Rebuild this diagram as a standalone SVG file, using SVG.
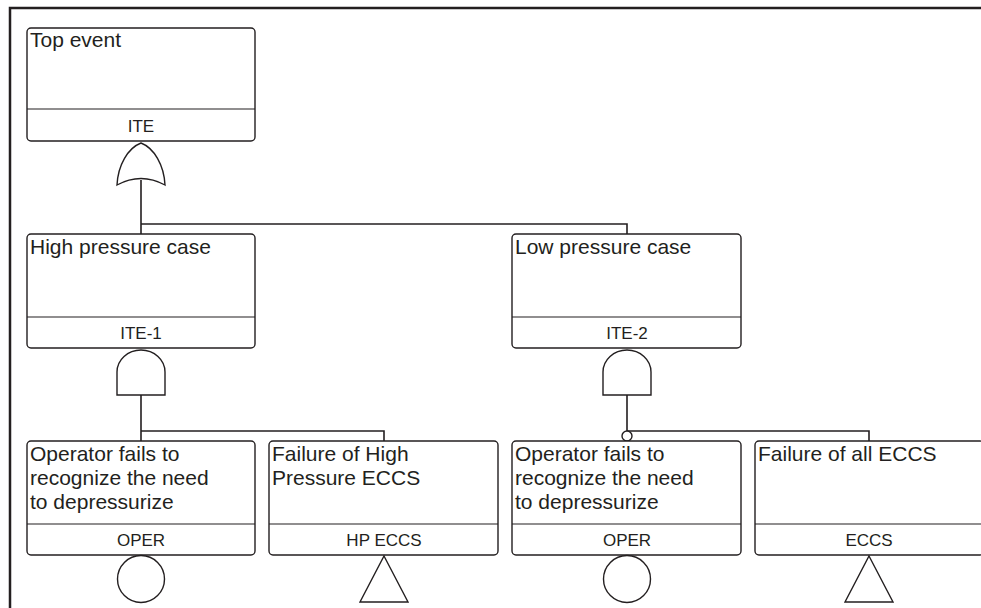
<svg xmlns="http://www.w3.org/2000/svg" width="981" height="608" viewBox="0 0 981 608">
<style>
.box{fill:#fff;stroke:#231f20;stroke-width:1.4}
.div{stroke:#231f20;stroke-width:1.2}
.t{font-family:"Liberation Sans",Arial,sans-serif;font-size:21px;fill:#231f20}
.c{font-family:"Liberation Sans",Arial,sans-serif;font-size:17px;fill:#231f20;text-anchor:middle}
.g{fill:#fff;stroke:#231f20;stroke-width:1.4}
.ln{fill:none;stroke:#231f20;stroke-width:1.6}
</style>
<rect width="981" height="608" fill="#fff"/>
<path d="M10,608 L10,8 L981,8" fill="none" stroke="#231f20" stroke-width="2.5"/>
<g id="connectors">
<path class="ln" d="M141,180 L141,234 M141,224 L627,224 L627,234"/>
<path class="ln" d="M141,395 L141,441 M141,431 L384,431 L384,441"/>
<path class="ln" d="M627,395 L627,431 L869,431 L869,441"/>
<circle class="g" cx="627" cy="436" r="5"/>
</g>
<g id="top">
<rect class="box" x="27" y="28" width="228" height="113" rx="4"/>
<line class="div" x1="27" y1="109" x2="255" y2="109"/>
<text class="t" x="30" y="47">Top event</text>
<text class="c" x="141" y="132">ITE</text>
<path class="g" d="M141,143 C128,148 118,165 117,185 Q141,172 165,185 C164,165 154,148 141,143 Z"/>
</g>
<g id="ite1">
<rect class="box" x="27" y="234" width="228" height="114" rx="4"/>
<line class="div" x1="27" y1="317" x2="255" y2="317"/>
<text class="t" x="30" y="254">High pressure case</text>
<text class="c" x="141" y="339">ITE-1</text>
<path class="g" d="M117,395 L117,372 A24,22 0 0 1 165,372 L165,395 Z"/>
</g>
<g id="ite2">
<rect class="box" x="512" y="234" width="229" height="114" rx="4"/>
<line class="div" x1="512" y1="317" x2="741" y2="317"/>
<text class="t" x="515" y="254">Low pressure case</text>
<text class="c" x="627" y="339">ITE-2</text>
<path class="g" d="M603,395 L603,372 A24,22 0 0 1 651,372 L651,395 Z"/>
</g>
<g id="oper1">
<rect class="box" x="27" y="441" width="228" height="114" rx="4"/>
<line class="div" x1="27" y1="524" x2="255" y2="524"/>
<text class="t" x="30" y="461">Operator fails to</text>
<text class="t" x="30" y="485">recognize the need</text>
<text class="t" x="30" y="509">to depressurize</text>
<text class="c" x="141" y="546">OPER</text>
<circle class="g" cx="141" cy="579" r="23.5"/>
</g>
<g id="hpeccs">
<rect class="box" x="269" y="441" width="229" height="114" rx="4"/>
<line class="div" x1="269" y1="524" x2="498" y2="524"/>
<text class="t" x="272" y="461">Failure of High</text>
<text class="t" x="272" y="485">Pressure ECCS</text>
<text class="c" x="384" y="546">HP ECCS</text>
<path class="g" d="M384,556 L408,602 L360,602 Z"/>
</g>
<g id="oper2">
<rect class="box" x="512" y="441" width="229" height="114" rx="4"/>
<line class="div" x1="512" y1="524" x2="741" y2="524"/>
<text class="t" x="515" y="461">Operator fails to</text>
<text class="t" x="515" y="485">recognize the need</text>
<text class="t" x="515" y="509">to depressurize</text>
<text class="c" x="627" y="546">OPER</text>
<circle class="g" cx="627" cy="579" r="23.5"/>
</g>
<g id="eccs">
<rect class="box" x="755" y="441" width="229" height="114" rx="4"/>
<line class="div" x1="755" y1="524" x2="984" y2="524"/>
<text class="t" x="758" y="461">Failure of all ECCS</text>
<text class="c" x="869" y="546">ECCS</text>
<path class="g" d="M869,556 L893,602 L845,602 Z"/>
</g>
</svg>
